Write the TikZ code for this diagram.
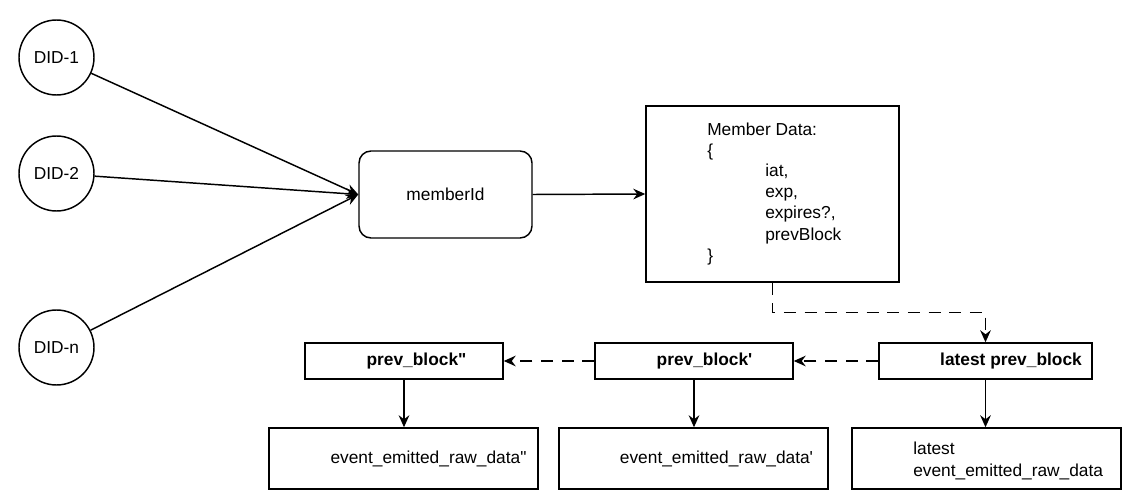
\documentclass[tikz,border=0pt]{standalone}
\usepackage{fontspec}
\setmainfont{Liberation Sans}[Ligatures=TeXOff]
\usetikzlibrary{arrows.meta}
\begin{document}
\begin{tikzpicture}[x=0.75pt,y=-0.75pt,
  every node/.style={font=\fontsize{13}{15.75}\selectfont, inner sep=0pt},
  lw/.style={line width=1.1pt},
  did/.style={lw, draw, circle, minimum size=56.25pt},
  box/.style={lw, draw, rectangle, minimum height=27pt},
  ebox/.style={lw, draw, rectangle, minimum width=201.75pt, minimum height=45.75pt},
  txt/.style={anchor=base west},
  bold/.style={font=\fontsize{13}{15.75}\selectfont\bfseries},
  arr/.style={lw, -{Stealth[length=9pt,width=8pt,inset=3pt]}},
  darr/.style={arr, dash pattern=on 9pt off 6.5pt}
]
\useasboundingbox (0,0) rectangle (1128,499);

% DID circles
\node[did] (d1) at (56.5,57.5) {DID-1};
\node[did] (d2) at (56.5,173.5) {DID-2};
\node[did] (dn) at (56.5,347.5) {DID-n};

% memberId
\node[lw, draw, rounded corners=9pt, minimum width=129.75pt, minimum height=65.25pt] (mid) at (445.5,194.5) {memberId};

% Member Data
\node[lw, draw, minimum width=189.75pt, minimum height=132pt] (md) at (772.5,194) {};
\node[txt] (m1) at (707,136) {Member Data:};
\node[txt] (m2) at (707,157) {\{};
\node[txt] (m3) at (765,177) {iat,};
\node[txt] (m4) at (765,198) {exp,};
\node[txt] (m5) at (765,219) {expires?,};
\node[txt] (m6) at (765,240) {prevBlock};
\node[txt] (m7) at (707,261) {\}};

% block boxes
\node[box, minimum width=159.75pt] (lb) at (985.5,361) {};
\node[bold] (lbt) at (1011,361) {latest prev\_block};
\node[box, minimum width=148.5pt] (pb1) at (694,361) {};
\node[bold] (pb1t) at (704.5,361) {prev\_block'};
\node[box, minimum width=148.5pt] (pb2) at (404,361) {};
\node[bold] (pb2t) at (416.5,361) {prev\_block"};

% event boxes
\node[ebox] (ev2) at (403.5,458.5) {};
\node (ev2t) at (428.5,459) {event\_emitted\_raw\_data"};
\node[ebox] (ev1) at (693.5,458.5) {};
\node (ev1t) at (716.5,459) {event\_emitted\_raw\_data'};
\node[ebox] (evl) at (986.5,458.5) {};
\node[txt] (evl1) at (913,454) {latest};
\node[txt] (evl2) at (913,476) {event\_emitted\_raw\_data};

% connectors
\draw[arr] (d1) -- (mid.west);
\draw[arr] (d2) -- (mid.west);
\draw[arr] (dn) -- (mid.west);
\draw[arr] (mid.east) -- (md.west);
\draw[darr] (md.south) -- ++(0,30) -| (lb.north);
\draw[darr] (lb.west) -- (pb1.east);
\draw[darr] (pb1.west) -- (pb2.east);
\draw[arr] (lb.south) -- (lb.south |- evl.north);
\draw[arr] (pb1.south) -- (pb1.south |- ev1.north);
\draw[arr] (pb2.south) -- (pb2.south |- ev2.north);
\end{tikzpicture}
\end{document}
